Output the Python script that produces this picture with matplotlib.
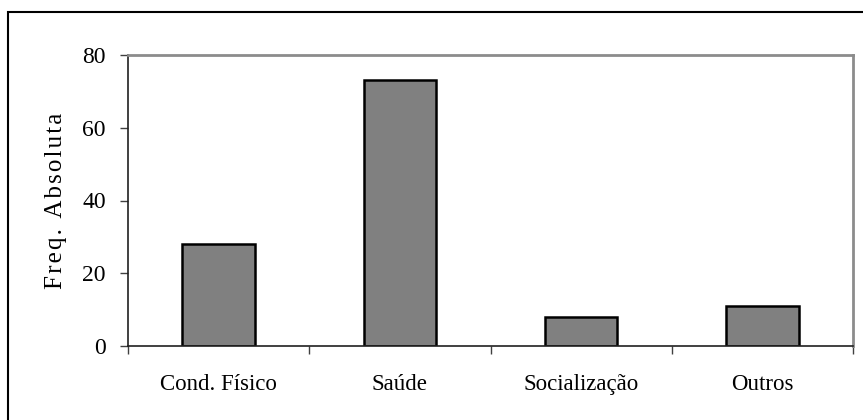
import matplotlib
matplotlib.use('Agg')
from matplotlib import pyplot as plt
from matplotlib.patches import Rectangle

# motivos para a prática
categorias = ['Cond. Físico', 'Saúde', 'Socialização', 'Outros']
freq_abs = [28, 73, 8, 11]
yticks = [0, 20, 40, 60, 80]

plt.rcParams['font.family'] = ['Liberation Serif', 'DejaVu Serif']

fig = plt.figure(figsize=(8.63, 4.2), dpi=100)
ax = fig.add_axes([128 / 863, 1 - 346 / 420, (853 - 128) / 863, (346 - 55) / 420])

x = range(len(categorias))
ax.bar(x, freq_abs, width=0.4, color='#808080', edgecolor='black', linewidth=1.8)

ax.set_xlim(-0.5, len(categorias) - 0.5)
ax.set_ylim(0, 80)
ax.set_yticks(yticks)
ax.set_yticklabels([str(v) for v in yticks], fontsize=17)

# ticks do eixo x nas divisões entre categorias, rótulos no centro
ax.set_xticks([i - 0.5 for i in range(len(categorias) + 1)])
ax.set_xticklabels([])
ax.set_xticks(list(x), minor=True)
ax.set_xticklabels(categorias, minor=True, fontsize=16.5)
ax.tick_params(axis='x', which='major', direction='out', length=6, width=1, color='#404040')
ax.tick_params(axis='x', which='minor', length=0, pad=20)
ax.tick_params(axis='y', direction='out', length=6, width=1, color='#404040', pad=10)

for s in ['left', 'bottom']:
    ax.spines[s].set_color('#202020')
    ax.spines[s].set_linewidth(1.2)
for s in ['top', 'right']:
    ax.spines[s].set_color('#8c8c8c')
    ax.spines[s].set_linewidth(2)

rotulo_y = '\u200a'.join('Freq. Absoluta')
ax.set_ylabel(rotulo_y, fontsize=18, labelpad=11)

# moldura externa do gráfico
fig.patches.append(Rectangle((8 / 863, -0.1), 1.2, 1 - 12 / 420 + 0.1,
                             transform=fig.transFigure, fill=False,
                             edgecolor='black', linewidth=1.5))

fig.savefig('out.png', dpi=100)
